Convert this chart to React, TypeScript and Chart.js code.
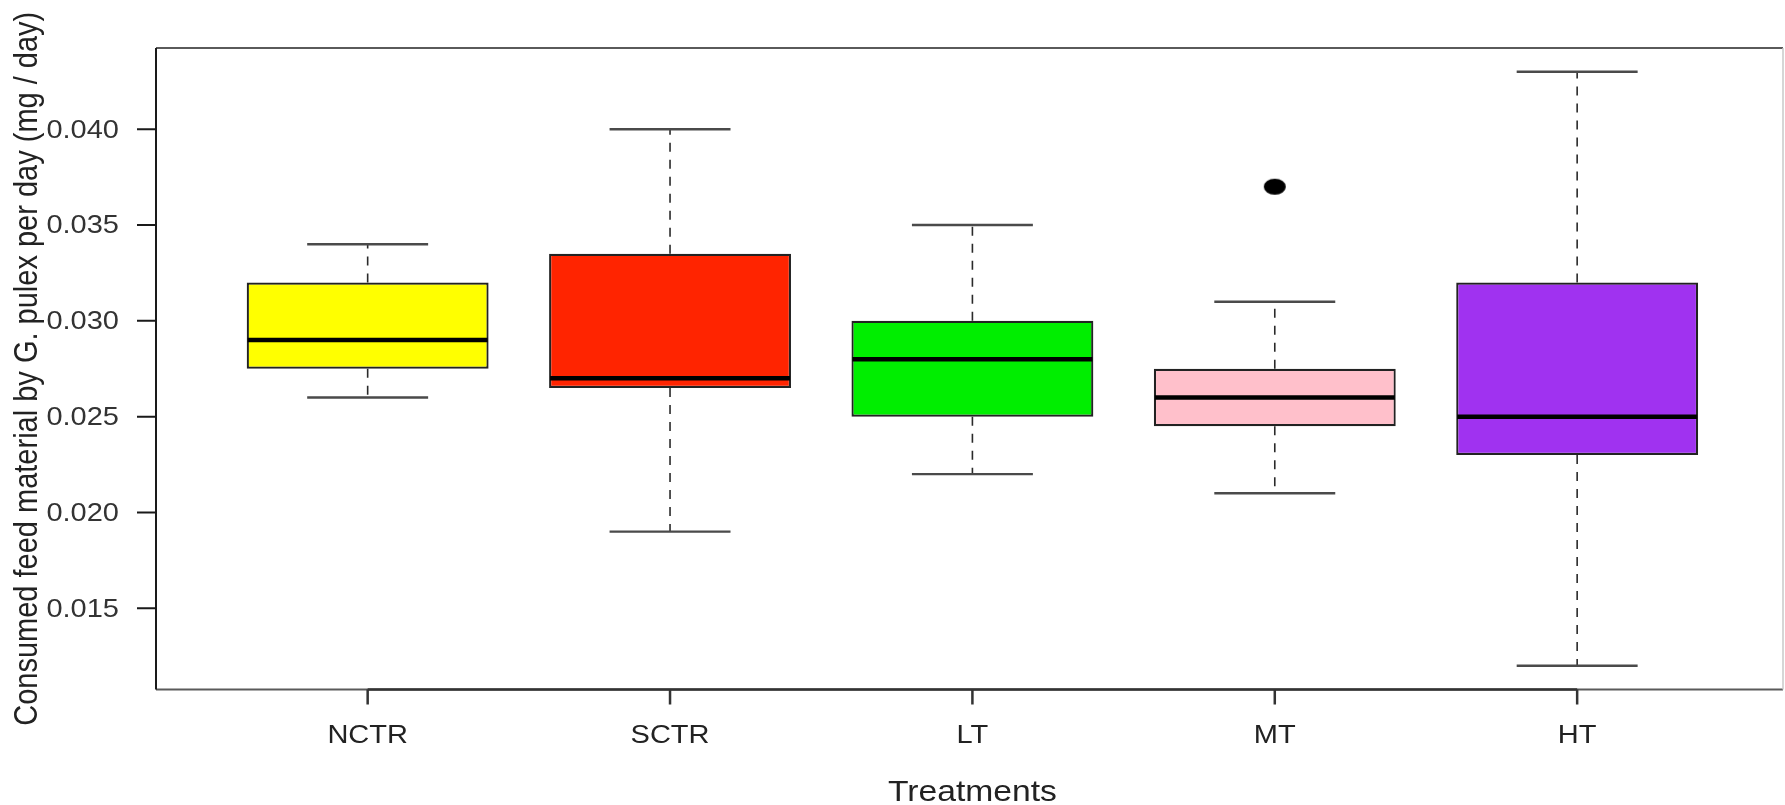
import React, { useEffect, useRef } from "react";
import { Chart, registerables } from "chart.js";

Chart.register(...registerables);

// Treatment groups and their box-plot statistics (mg / day)
const categories = ["NCTR", "SCTR", "LT", "MT", "HT"];
const lowerWhisker = [0.026, 0.019, 0.022, 0.021, 0.012];
const lowerQuartile = [0.0275, 0.0265, 0.025, 0.0245, 0.023];
const medians = [0.029, 0.027, 0.028, 0.026, 0.025];
const upperQuartile = [0.032, 0.0335, 0.03, 0.0275, 0.032];
const upperWhisker = [0.034, 0.04, 0.035, 0.031, 0.043];
const outlierGroup = ["MT"];
const outlierValue = [0.037];
const boxColors = ["#FFFF00", "#FF2400", "#00EE00", "#FFC0CB", "#A032F0"];
const yTickValues = [0.015, 0.02, 0.025, 0.03, 0.035, 0.04];

const yTitle = "Consumed feed material by G. pulex per day (mg / day)";
const xTitle = "Treatments";

const W = 1785;
const H = 805;
const STRETCH = 1.16;
const FONT = '"Liberation Sans", Arial, Helvetica, sans-serif';

// y range padded by 4% of the data span on each side
const allValues = [...lowerWhisker, ...upperWhisker, ...outlierValue];
const dataMin = Math.min(...allValues);
const dataMax = Math.max(...allValues);
const span = dataMax - dataMin;
const yMin = dataMin - 0.04 * span;
const yMax = dataMax + 0.04 * span;

function stretchedText(
  ctx: CanvasRenderingContext2D,
  text: string,
  x: number,
  y: number,
  font: string,
  align: CanvasTextAlign,
  baseline: CanvasTextBaseline,
  rotate = false,
  color = "#1a1a1a"
) {
  ctx.save();
  ctx.translate(x, y);
  ctx.scale(STRETCH, 1);
  if (rotate) ctx.rotate(-Math.PI / 2);
  ctx.font = font;
  ctx.textAlign = align;
  ctx.textBaseline = baseline;
  ctx.fillStyle = color;
  ctx.fillText(text, 0, 0);
  ctx.restore();
}

const boxExtras = {
  id: "boxExtras",
  beforeDatasetsDraw(chart: any) {
    const { ctx, scales } = chart;
    const xs = scales.x;
    const ys = scales.y;
    const capHalf = xs.getPixelForValue(1.2) - xs.getPixelForValue(1);
    categories.forEach((_, i) => {
      const x = xs.getPixelForValue(i + 1);
      // dashed whiskers
      ctx.save();
      ctx.strokeStyle = "#2a2a2a";
      ctx.lineWidth = 1.6;
      ctx.setLineDash([9, 8]);
      ctx.beginPath();
      ctx.moveTo(x, ys.getPixelForValue(upperQuartile[i]));
      ctx.lineTo(x, ys.getPixelForValue(upperWhisker[i]));
      ctx.moveTo(x, ys.getPixelForValue(lowerQuartile[i]));
      ctx.lineTo(x, ys.getPixelForValue(lowerWhisker[i]));
      ctx.stroke();
      ctx.restore();
      // whisker caps
      ctx.save();
      ctx.strokeStyle = "#4a4a4a";
      ctx.lineWidth = 2.4;
      ctx.beginPath();
      [upperWhisker[i], lowerWhisker[i]].forEach((v) => {
        const y = ys.getPixelForValue(v);
        ctx.moveTo(x - capHalf, y);
        ctx.lineTo(x + capHalf, y);
      });
      ctx.stroke();
      ctx.restore();
    });
  },
  afterDatasetsDraw(chart: any) {
    const { ctx, scales } = chart;
    const xs = scales.x;
    const ys = scales.y;
    const half = xs.getPixelForValue(1.4) - xs.getPixelForValue(1);
    ctx.save();
    ctx.strokeStyle = "#000";
    ctx.lineWidth = 4.5;
    ctx.beginPath();
    medians.forEach((m, i) => {
      const x = xs.getPixelForValue(i + 1);
      const y = ys.getPixelForValue(m);
      ctx.moveTo(x - half + 1, y);
      ctx.lineTo(x + half - 1, y);
    });
    ctx.stroke();
    ctx.restore();
  },
  afterDraw(chart: any) {
    const { ctx, scales, chartArea } = chart;
    const xs = scales.x;
    const ys = scales.y;
    const { left, top, bottom } = chartArea;
    const frameRight = W - 2;

    // plot frame
    ctx.save();
    ctx.strokeStyle = "#5a5a5a";
    ctx.lineWidth = 2;
    ctx.beginPath();
    ctx.moveTo(left, top);
    ctx.lineTo(frameRight, top);
    ctx.moveTo(left, bottom);
    ctx.lineTo(frameRight, bottom);
    ctx.stroke();
    ctx.strokeStyle = "#c8c8c8";
    ctx.lineWidth = 1.5;
    ctx.beginPath();
    ctx.moveTo(frameRight, top);
    ctx.lineTo(frameRight, bottom);
    ctx.stroke();
    ctx.strokeStyle = "#1a1a1a";
    ctx.lineWidth = 2;
    ctx.beginPath();
    ctx.moveTo(left, top);
    ctx.lineTo(left, bottom);
    ctx.stroke();

    // y axis: ticks and labels
    ctx.strokeStyle = "#1a1a1a";
    ctx.lineWidth = 2;
    ctx.beginPath();
    yTickValues.forEach((v) => {
      const y = ys.getPixelForValue(v);
      ctx.moveTo(left - 19, y);
      ctx.lineTo(left, y);
    });
    ctx.stroke();
    ctx.restore();
    yTickValues.forEach((v) => {
      const y = ys.getPixelForValue(v);
      stretchedText(ctx, v.toFixed(3), left - 37, y + 1.5, `25px ${FONT}`, "right", "middle", false, "#333");
    });

    // x axis: line between first and last group, ticks, labels
    ctx.save();
    ctx.strokeStyle = "#333";
    ctx.lineWidth = 2.5;
    ctx.beginPath();
    ctx.moveTo(xs.getPixelForValue(1), bottom);
    ctx.lineTo(xs.getPixelForValue(categories.length), bottom);
    categories.forEach((_, i) => {
      const x = xs.getPixelForValue(i + 1);
      ctx.moveTo(x, bottom);
      ctx.lineTo(x, bottom + 15);
    });
    ctx.stroke();
    ctx.restore();
    categories.forEach((c, i) => {
      const x = xs.getPixelForValue(i + 1);
      stretchedText(ctx, c, x, bottom + 53, `25px ${FONT}`, "center", "alphabetic", false, "#222");
    });

    // axis titles
    const xMid = (xs.getPixelForValue(1) + xs.getPixelForValue(categories.length)) / 2;
    stretchedText(ctx, xTitle, xMid, H - 4, `29px ${FONT}`, "center", "alphabetic", false, "#222");
    stretchedText(ctx, yTitle, 37, (top + bottom) / 2, `29px ${FONT}`, "center", "alphabetic", true, "#222");
  },
};

function makeOutlierMarker(): HTMLCanvasElement {
  const c = document.createElement("canvas");
  c.width = 24;
  c.height = 18;
  const g = c.getContext("2d")!;
  g.fillStyle = "#000";
  g.beginPath();
  g.ellipse(12, 9, 11, 8, 0, 0, Math.PI * 2);
  g.fill();
  return c;
}

export default function App() {
  const canvasRef = useRef<HTMLCanvasElement | null>(null);

  useEffect(() => {
    if (!canvasRef.current) return;
    const marker = makeOutlierMarker();
    const chart = new Chart(canvasRef.current, {
      type: "bar",
      data: {
        datasets: [
          {
            type: "bar",
            label: "IQR",
            data: categories.map((_, i) => ({ x: i + 1, y: [lowerQuartile[i], upperQuartile[i]] })) as any,
            backgroundColor: boxColors,
            borderColor: "#222",
            borderWidth: 2.2,
            borderSkipped: false,
            barPercentage: 0.8,
            categoryPercentage: 1,
          } as any,
          {
            type: "scatter",
            label: "Outliers",
            data: outlierGroup.map((g, k) => ({ x: categories.indexOf(g) + 1, y: outlierValue[k] })),
            pointStyle: marker as any,
            pointRadius: 10,
            showLine: false,
          } as any,
        ],
      },
      options: {
        responsive: false,
        animation: false,
        devicePixelRatio: 1,
        layout: { padding: { left: 156, top: 48, right: 6, bottom: 115.5 } },
        scales: {
          x: {
            type: "linear",
            min: 0.3,
            max: 5.651,
            offset: false,
            display: false,
            // one tick per group so bar widths are measured on a one-group spacing
            afterBuildTicks: (scale: any) => {
              scale.ticks = categories.map((_, i) => ({ value: i + 1 }));
            },
          },
          y: { type: "linear", min: yMin, max: yMax, display: false },
        },
        plugins: {
          legend: { display: false },
          tooltip: { enabled: false },
        },
      },
      plugins: [boxExtras],
    });
    return () => chart.destroy();
  }, []);

  return (
    <div style={{ position: "fixed", left: 0, top: 0, width: W, height: H, background: "#fff" }}>
      <canvas ref={canvasRef} width={W} height={H} />
    </div>
  );
}
